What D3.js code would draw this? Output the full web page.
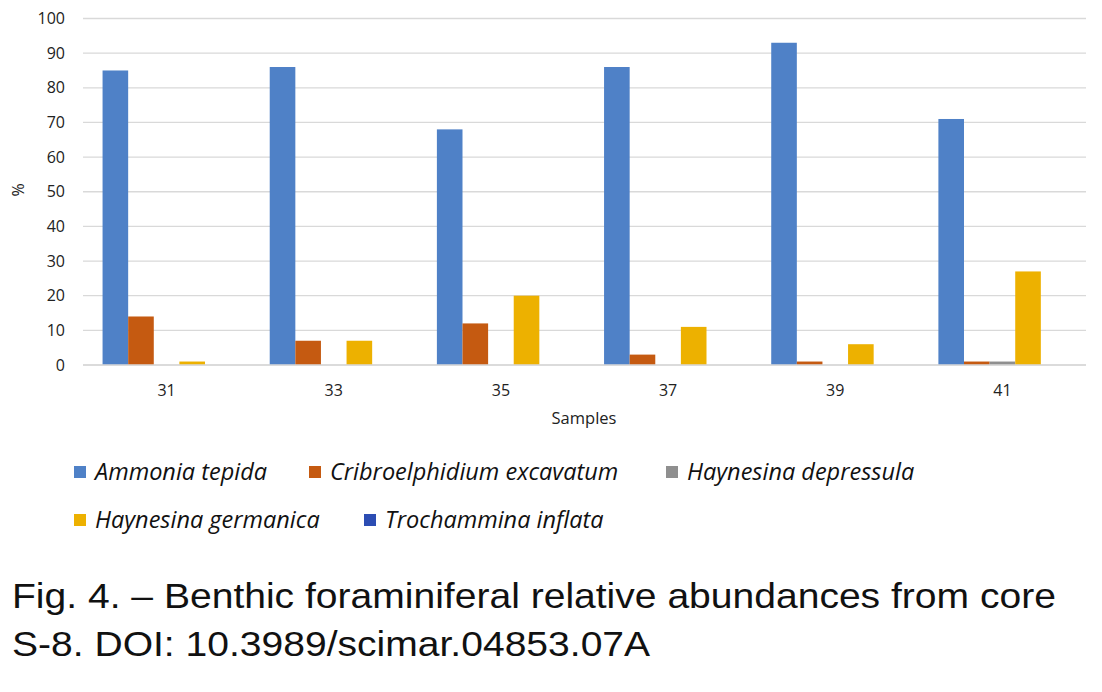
<!DOCTYPE html>
<html>
<head>
<meta charset="utf-8">
<script src="https://cdn.jsdelivr.net/npm/d3@7"></script>
<style>
  body { margin: 0; background: #fff; }
  svg { display: block; }
</style>
</head>
<body>
<svg id="chart" width="1102" height="692"></svg>
<script>
// ---- données ----
const samples = ["31", "33", "35", "37", "39", "41"];
const species = [
  "Ammonia tepida",
  "Cribroelphidium excavatum",
  "Haynesina depressula",
  "Haynesina germanica",
  "Trochammina inflata"
];
const ammoniaTepida = [85, 86, 68, 86, 93, 71];
const cribroExcavatum = [14, 7, 12, 3, 1, 1];
const haynesinaDepressula = [0, 0, 0, 0, 0, 1];
const haynesinaGermanica = [1, 7, 20, 11, 6, 27];
const trochamminaInflata = [0, 0, 0, 0, 0, 0];
const yTicks = [0, 10, 20, 30, 40, 50, 60, 70, 80, 90, 100];
const colors = ["#4f81c7", "#c55a11", "#8f8f8f", "#edb100", "#2c4db3"];

const seriesValues = [ammoniaTepida, cribroExcavatum, haynesinaDepressula, haynesinaGermanica, trochamminaInflata];

const svg = d3.select("#chart");
const margin = { left: 83, right: 16, top: 18.5 };
const width = 1102;
const plotBottom = 365;

const x = d3.scaleBand()
  .domain(samples)
  .range([margin.left, width - margin.right])
  .paddingInner(0.234)
  .paddingOuter(0.117);

const xSub = d3.scaleBand()
  .domain(species)
  .range([0, x.bandwidth()]);

const y = d3.scaleLinear()
  .domain([0, 100])
  .range([plotBottom, margin.top]);

// grille
svg.append("g")
  .selectAll("line")
  .data(yTicks)
  .join("line")
  .attr("x1", margin.left)
  .attr("x2", width - margin.right)
  .attr("y1", d => y(d))
  .attr("y2", d => y(d))
  .attr("stroke", "#d9d9d9")
  .attr("stroke-width", 1.3);

// barres
const groups = svg.append("g")
  .selectAll("g")
  .data(samples)
  .join("g")
  .attr("transform", d => `translate(${x(d)},0)`);

groups.selectAll("rect")
  .data((s, i) => species.map((sp, j) => ({ sp, j, v: seriesValues[j][i] })))
  .join("rect")
  .filter(d => d.v > 0)
  .attr("x", d => xSub(d.sp))
  .attr("y", d => y(d.v))
  .attr("width", xSub.bandwidth())
  .attr("height", d => y(0) - y(d.v))
  .attr("fill", d => colors[d.j]);

// axe x (ligne de base)
svg.append("line")
  .attr("x1", margin.left)
  .attr("x2", width - margin.right)
  .attr("y1", y(0))
  .attr("y2", y(0))
  .attr("stroke", "#d9d9d9")
  .attr("stroke-width", 1.3);

const tickFont = "'Open Sans', 'DejaVu Sans', sans-serif";

// labels y
svg.append("g")
  .selectAll("text")
  .data(yTicks)
  .join("text")
  .attr("x", 65)
  .attr("y", d => y(d))
  .attr("dy", "0.35em")
  .attr("text-anchor", "end")
  .attr("font-family", tickFont)
  .attr("font-size", 16)
  .attr("fill", "#222")
  .text(d => d);

// labels x
svg.append("g")
  .selectAll("text")
  .data(samples)
  .join("text")
  .attr("x", d => x(d) + x.bandwidth() / 2)
  .attr("y", 396)
  .attr("text-anchor", "middle")
  .attr("font-family", tickFont)
  .attr("font-size", 16)
  .attr("fill", "#222")
  .text(d => d);

// titres des axes
svg.append("text")
  .attr("x", 584)
  .attr("y", 424)
  .attr("text-anchor", "middle")
  .attr("font-family", tickFont)
  .attr("font-size", 16.5)
  .attr("fill", "#222")
  .text("Samples");

svg.append("text")
  .attr("transform", "translate(24,190) rotate(-90)")
  .attr("text-anchor", "middle")
  .attr("font-family", tickFont)
  .attr("font-size", 16)
  .attr("fill", "#222")
  .text("%");

// légende
const legendPos = [
  { x: 74, y: 472 },
  { x: 309, y: 472 },
  { x: 666, y: 472 },
  { x: 74, y: 520 },
  { x: 364, y: 520 }
];

const legend = svg.append("g")
  .selectAll("g")
  .data(species)
  .join("g")
  .attr("transform", (d, i) => `translate(${legendPos[i].x},${legendPos[i].y})`);

legend.append("rect")
  .attr("x", 0)
  .attr("y", -6)
  .attr("width", 12)
  .attr("height", 12)
  .attr("fill", (d, i) => colors[i]);

legend.append("text")
  .attr("x", 21)
  .attr("dy", "0.35em")
  .attr("font-family", tickFont)
  .attr("font-style", "italic")
  .attr("font-size", 23.5)
  .attr("fill", "#111")
  .text(d => d);

// légende de figure
const caption = [
  "Fig. 4. – Benthic foraminiferal relative abundances from core",
  "S-8. DOI: 10.3989/scimar.04853.07A"
];

svg.append("g")
  .attr("transform", "translate(12,0) scale(1.085,1)")
  .selectAll("text")
  .data(caption)
  .join("text")
  .attr("x", 0)
  .attr("y", (d, i) => 608 + i * 48)
  .attr("font-family", "'Liberation Sans', Arial, sans-serif")
  .attr("font-size", 36)
  .attr("fill", "#111")
  .text(d => d);
</script>
</body>
</html>
